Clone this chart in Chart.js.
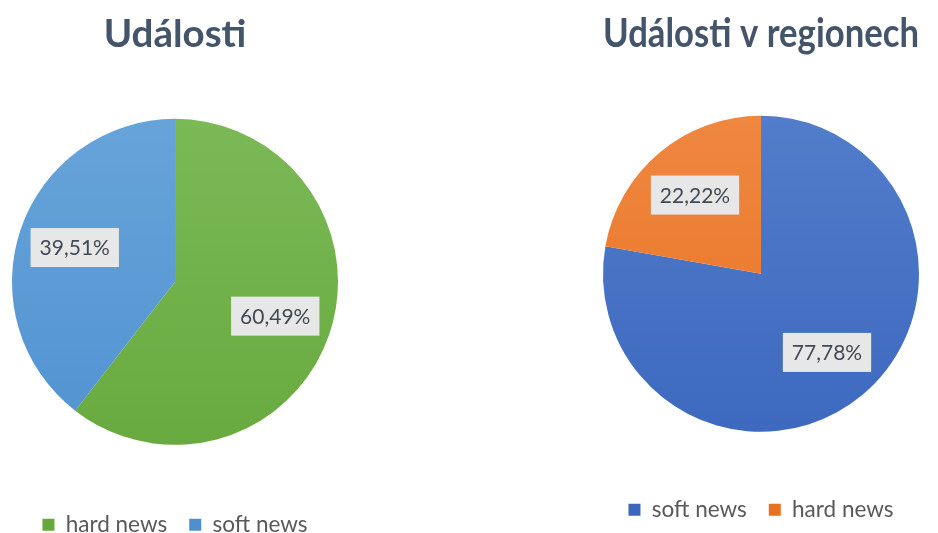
<!DOCTYPE html>
<html>
<head>
<meta charset="utf-8">
<script src="https://cdn.jsdelivr.net/npm/chart.js@4"></script>
<style>
  body { margin: 0; background: #fff; width: 938px; height: 533px; overflow: hidden; position: relative; }
  .box { position: absolute; top: 0; }
  #left { left: 0; width: 350px; height: 546px; }
  #right { left: 578px; width: 360px; height: 533px; }
</style>
</head>
<body>
<div class="box" id="left"><canvas id="chartLeft"></canvas></div>
<div class="box" id="right"><canvas id="chartRight"></canvas></div>
<script>
const leftTitle = 'Události';
const leftLabels = ['hard news', 'soft news'];
const leftValues = [60.49, 39.51];

const rightTitle = 'Události v regionech';
const rightLabels = ['soft news', 'hard news'];
const rightValues = [77.78, 22.22];

// light/dark pairs for the slight Office-style shading
const green = ['#7dbb5a', '#66a83c'];
const lightBlue = ['#6aa6db', '#4e90cf'];
const blue = ['#5580cc', '#3a66be'];
const orange = ['#f08a45', '#e8701f'];

function shade(pairs) {
    return function(context) {
        const pair = pairs[context.dataIndex] || pairs[0];
        const area = context.chart.chartArea;
        if (!area) return pair[1];
        const g = context.chart.ctx.createLinearGradient(0, area.top, 0, area.bottom);
        g.addColorStop(0, pair[0]);
        g.addColorStop(1, pair[1]);
        return g;
    };
}

// grey boxes with the percentage, like the Excel data labels
const valueBoxes = {
    id: 'valueBoxes',
    afterDatasetsDraw(chart) {
        const ctx = chart.ctx;
        const values = chart.data.datasets[0].data;
        chart.getDatasetMeta(0).data.forEach((arc, i) => {
            const p = arc.getProps(['x', 'y', 'startAngle', 'endAngle', 'outerRadius'], true);
            const mid = (p.startAngle + p.endAngle) / 2;
            const cx = p.x + Math.cos(mid) * p.outerRadius * 0.65;
            const cy = p.y + Math.sin(mid) * p.outerRadius * 0.65;
            const text = values[i].toFixed(2).replace('.', ',') + '%';
            ctx.save();
            ctx.font = '21px Lato';
            const w = ctx.measureText(text).width + 18;
            const h = 39;
            ctx.fillStyle = '#e8e7e7';
            ctx.fillRect(cx - w / 2, cy - h / 2, w, h);
            ctx.fillStyle = '#404a57';
            ctx.textAlign = 'center';
            ctx.textBaseline = 'middle';
            ctx.fillText(text, cx, cy + 1);
            ctx.restore();
        });
    }
};

function makePie(id, title, labels, values, colors, pad) {
    return new Chart(document.getElementById(id), {
        type: 'pie',
        data: {
            labels: labels,
            datasets: [{
                data: values,
                backgroundColor: shade(colors),
                borderWidth: 0
            }]
        },
        options: {
            responsive: true,
            maintainAspectRatio: false,
            animation: false,
            layout: { padding: pad.layout },
            plugins: {
                title: {
                    display: true,
                    text: title,
                    color: '#44546a',
                    font: { family: 'Lato', size: pad.titleSize, weight: 'bold' },
                    padding: pad.title
                },
                legend: {
                    position: 'bottom',
                    labels: {
                        color: '#595959',
                        font: { family: 'Lato', size: 22.5 },
                        boxWidth: 12,
                        boxHeight: 12,
                        padding: 22
                    }
                },
                tooltip: { enabled: false }
            }
        },
        plugins: [valueBoxes]
    });
}

makePie('chartLeft', leftTitle, leftLabels, leftValues, [green, lightBlue], {
    layout: { left: 12, right: 12, top: 0, bottom: 0 },
    titleSize: 38.5,
    title: { top: 11, bottom: 15 }
});
makePie('chartRight', rightTitle, rightLabels, rightValues, [blue, orange], {
    layout: { left: 25, right: 19, top: 0, bottom: 2 },
    titleSize: 40,
    title: { top: 10, bottom: 13 }
});
</script>
</body>
</html>
